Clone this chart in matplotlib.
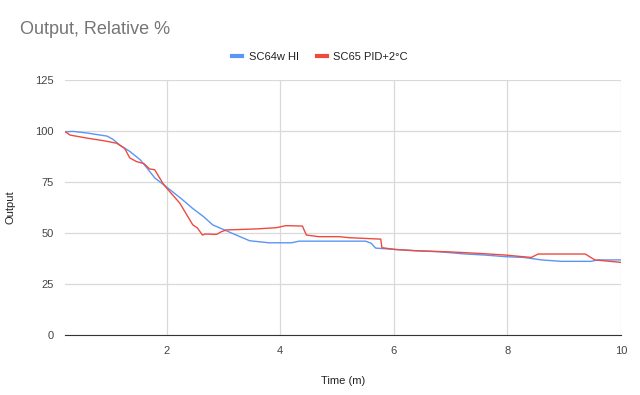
import matplotlib.pyplot as plt

# values (time in minutes, output in %)
blue_t = [0.21, 0.35, 0.6, 0.95, 1.05, 1.18, 1.35, 1.53, 1.65, 1.79, 2.0, 2.25, 2.46,
          2.65, 2.81, 3.1, 3.46, 3.8, 4.2, 4.33, 5.0, 5.5, 5.6, 5.68, 6.0, 6.39, 6.8,
          7.26, 7.6, 7.96, 8.3, 8.6, 8.95, 9.47, 9.6, 10.0]
blue_y = [99.6, 99.8, 99.0, 97.5, 96.0, 93.0, 90.0, 86.0, 82.0, 77.0, 72.5, 67.0, 62.0,
          58.0, 54.0, 50.5, 46.2, 45.2, 45.2, 46.0, 46.0, 46.0, 45.0, 42.6, 42.0, 41.3, 40.8,
          39.7, 39.2, 38.4, 38.0, 36.8, 36.1, 36.1, 36.8, 36.8]

red_t = [0.21, 0.3, 0.6, 0.9, 1.12, 1.26, 1.35, 1.47, 1.6, 1.7, 1.79, 1.93, 2.0, 2.23,
         2.46, 2.54, 2.63, 2.68, 2.88, 2.96, 3.05, 3.58, 3.93, 4.1, 4.39, 4.46, 4.68,
         5.04, 5.21, 5.61, 5.77, 5.79, 6.03, 6.39, 7.02, 7.5, 7.96, 8.42, 8.54, 9.0,
         9.37, 9.54, 10.0]
red_y = [99.7, 98.0, 96.5, 95.2, 94.0, 91.5, 86.8, 85.0, 84.0, 81.4, 81.0, 74.5, 72.0, 64.7,
         54.0, 52.5, 49.0, 49.5, 49.3, 50.6, 51.5, 52.0, 52.6, 53.6, 53.4, 49.0, 48.2,
         48.2, 47.7, 47.2, 47.0, 42.8, 41.9, 41.3, 40.7, 40.0, 39.2, 38.0, 39.7, 39.7,
         39.7, 36.8, 35.6]

series_names = ['SC64w HI', 'SC65 PID+2°C']
y_ticks = [0, 25, 50, 75, 100, 125]
x_ticks = [2, 4, 6, 8, 10]

plt.rcParams['font.family'] = ['Liberation Sans', 'DejaVu Sans']

fig = plt.figure(figsize=(6.4, 3.95), dpi=100)
ax = fig.add_axes([65 / 640, 60 / 395, 556 / 640, 255 / 395])

ax.plot(blue_t, blue_y, color='#5b95f5', lw=1.0, label=series_names[0])
ax.plot(red_t, red_y, color='#ee4b3f', lw=1.0, label=series_names[1])

ax.set_xlim(0.21, 10)
ax.set_ylim(0, 125)
ax.set_xticks(x_ticks)
ax.set_yticks(y_ticks)
ax.grid(color='#d9d9d9', lw=0.9)
ax.set_axisbelow(True)
for s in ['top', 'right', 'left']:
    ax.spines[s].set_visible(False)
ax.spines['bottom'].set_color('#333333')
ax.tick_params(length=0, labelsize=8, colors='#444444', pad=8)

ax.set_xlabel('Time (m)', fontsize=8, color='#222222', labelpad=14)
ax.set_ylabel('Output', fontsize=8, color='#222222', labelpad=14)

fig.text(20 / 640, 1 - 30 / 395, 'Output, Relative %', fontsize=13, color='#757575', va='center')
leg = fig.legend(loc='center', bbox_to_anchor=(0.5, 1 - 57 / 395), ncol=2, frameon=False,
                 fontsize=8, handlelength=0.9, handletextpad=0.6, columnspacing=1.6)
for line in leg.get_lines():
    line.set_linewidth(3)
for t in leg.get_texts():
    t.set_color('#222222')

fig.savefig('out.png', dpi=100)
